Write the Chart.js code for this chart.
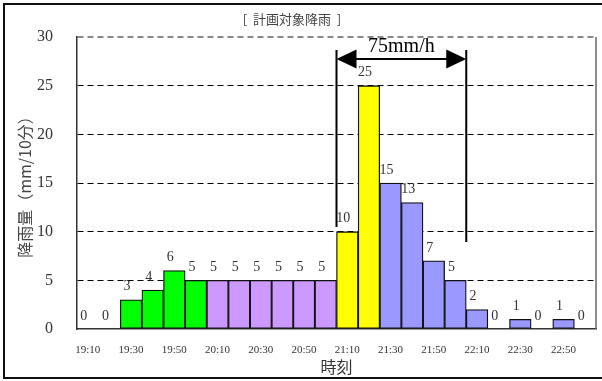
<!DOCTYPE html>
<html>
<head>
<meta charset="utf-8">
<script src="https://cdn.jsdelivr.net/npm/chart.js@4.4.1/dist/chart.umd.min.js"></script>
<style>
  html, body { margin: 0; padding: 0; background: #fff; overflow: hidden; }
  #wrap { position: relative; width: 602px; height: 381px; overflow: hidden; }
  #wrap canvas { position: absolute; left: 0; top: 0; }
  #frame { position: absolute; left: 3px; top: 3px; width: 640px; height: 376px;
           border: 2px solid #111; box-sizing: border-box; pointer-events: none; }
</style>
</head>
<body>
<div id="wrap">
  <canvas id="rain" width="602" height="381"></canvas>
  <div id="frame"></div>
</div>
<script>
// 10-minute rainfall of the design storm
const timeLabels = ['19:10','19:20','19:30','19:40','19:50','20:00','20:10','20:20',
                    '20:30','20:40','20:50','21:00','21:10','21:20','21:30','21:40',
                    '21:50','22:00','22:10','22:20','22:30','22:40','22:50','23:00'];
const rainfall   = [0, 0, 3, 4, 6, 5, 5, 5, 5, 5, 5, 5, 10, 25, 15, 13, 7, 5, 2, 0, 1, 0, 1, 0];
const yTicks     = [0, 5, 10, 15, 20, 25, 30];
// bars [start, end) of the peak hour
const peakHour   = [12, 18];
// vertical extent of the peak-hour markers (mm/10分)
const markerTop = 28.66, markerLeftBottom = 10.48, markerRightBottom = 8.94;
const arrowLevel = 27.74, arrowTextLevel = 28.46;

const chartTitle = '[  計画対象降雨  ]';
const yTitle = '降雨量（mm/10分）';
const xTitle = '時刻';

function barColor(i) {
  if (i < 6) return '#00ff00';
  if (i < 12) return '#cc99ff';
  if (i < 14) return '#ffff00';
  return '#9999ff';
}

const serif = '"Liberation Serif", "DejaVu Serif", serif';
const cjk = '"Noto Sans CJK JP", "Noto Sans", sans-serif';

const peakSum = rainfall.slice(peakHour[0], peakHour[1]).reduce((a, b) => a + b, 0);

const decorations = {
  id: 'decorations',
  afterDatasetsDraw(chart) {
    const { ctx, chartArea, scales: { x, y } } = chart;
    const meta = chart.getDatasetMeta(0);

    // value labels above each bar
    ctx.save();
    ctx.font = '14px ' + serif;
    ctx.fillStyle = '#333';
    ctx.textAlign = 'center';
    ctx.textBaseline = 'middle';
    meta.data.forEach((bar, i) => {
      ctx.fillText(String(rainfall[i]), bar.x - 4, bar.y - 13);
    });
    ctx.restore();

    // right edge of the plot
    ctx.save();
    ctx.strokeStyle = '#666';
    ctx.lineWidth = 1.5;
    ctx.beginPath();
    ctx.moveTo(chartArea.right, chartArea.top);
    ctx.lineTo(chartArea.right, chartArea.bottom);
    ctx.stroke();
    ctx.restore();

    // peak-hour span markers with double arrow
    const half = (x.getPixelForValue(1) - x.getPixelForValue(0)) / 2;
    const xl = x.getPixelForValue(peakHour[0]) - half;
    const xr = x.getPixelForValue(peakHour[1]) - half;
    ctx.save();
    ctx.strokeStyle = '#000';
    ctx.fillStyle = '#000';
    ctx.lineWidth = 2;
    ctx.beginPath();
    ctx.moveTo(xl, y.getPixelForValue(markerTop));
    ctx.lineTo(xl, y.getPixelForValue(markerLeftBottom));
    ctx.moveTo(xr, y.getPixelForValue(markerTop));
    ctx.lineTo(xr, y.getPixelForValue(markerRightBottom));
    const ay = y.getPixelForValue(arrowLevel);
    ctx.moveTo(xl + 10, ay);
    ctx.lineTo(xr - 10, ay);
    ctx.stroke();
    const headL = 20, headH = 9.5;
    ctx.beginPath();
    ctx.moveTo(xl, ay);
    ctx.lineTo(xl + headL, ay - headH);
    ctx.lineTo(xl + headL, ay + headH);
    ctx.closePath();
    ctx.fill();
    ctx.beginPath();
    ctx.moveTo(xr, ay);
    ctx.lineTo(xr - headL, ay - headH);
    ctx.lineTo(xr - headL, ay + headH);
    ctx.closePath();
    ctx.fill();
    ctx.font = '20px ' + serif;
    ctx.textAlign = 'center';
    ctx.textBaseline = 'alphabetic';
    ctx.fillText(peakSum + 'mm/h', (xl + xr) / 2, y.getPixelForValue(arrowTextLevel));
    ctx.restore();

    // chart heading
    ctx.save();
    ctx.font = '13px ' + cjk;
    ctx.fillStyle = '#444';
    ctx.textAlign = 'center';
    ctx.textBaseline = 'middle';
    ctx.fillText(chartTitle, 292, 19);
    ctx.restore();
  }
};

new Chart(document.getElementById('rain'), {
  type: 'bar',
  data: {
    labels: timeLabels,
    datasets: [{
      data: rainfall,
      backgroundColor: rainfall.map((_, i) => barColor(i)),
      borderColor: '#111',
      borderWidth: 1.3,
      borderSkipped: false,
      barPercentage: 1,
      categoryPercentage: 1
    }]
  },
  options: {
    responsive: false,
    animation: false,
    devicePixelRatio: 1,
    layout: { padding: { top: 37, right: 6, left: 0, bottom: 0 } },
    plugins: { legend: { display: false }, tooltip: { enabled: false } },
    scales: {
      x: {
        afterFit(scale) { scale.height = 52; },
        grid: { display: false, drawTicks: false },
        border: { display: true, color: '#333', width: 1.5 },
        ticks: {
          autoSkip: false, maxRotation: 0, padding: 15,
          color: '#333', font: { family: serif, size: 11 },
          callback(val, i) { return i % 2 === 0 ? timeLabels[i] : ''; }
        },
        title: {
          display: true, text: xTitle, color: '#333',
          font: { family: cjk, size: 16 }, padding: { top: 0, bottom: 4 }
        }
      },
      y: {
        min: 0, max: 30,
        afterFit(scale) { scale.width = 77; },
        afterBuildTicks(scale) { scale.ticks = yTicks.map(v => ({ value: v })); },
        grid: {
          drawTicks: false,
          lineWidth: ctx => ctx.tick && ctx.tick.value === 30 ? 2 : 1,
          color: ctx => {
            if (!ctx.tick || ctx.tick.value === 0) return 'rgba(0,0,0,0)';
            return ctx.tick.value === 30 ? '#888' : '#000';
          }
        },
        border: { display: true, color: '#333', width: 1.5, dash: [6, 4] },
        ticks: {
          padding: 24, color: '#333',
          font: { family: serif, size: 16 }
        },
        title: {
          display: true, text: yTitle, color: '#444',
          font: { family: cjk, size: 16 }, padding: { top: 15, bottom: 0 }
        }
      }
    }
  },
  plugins: [decorations]
});
</script>
</body>
</html>
